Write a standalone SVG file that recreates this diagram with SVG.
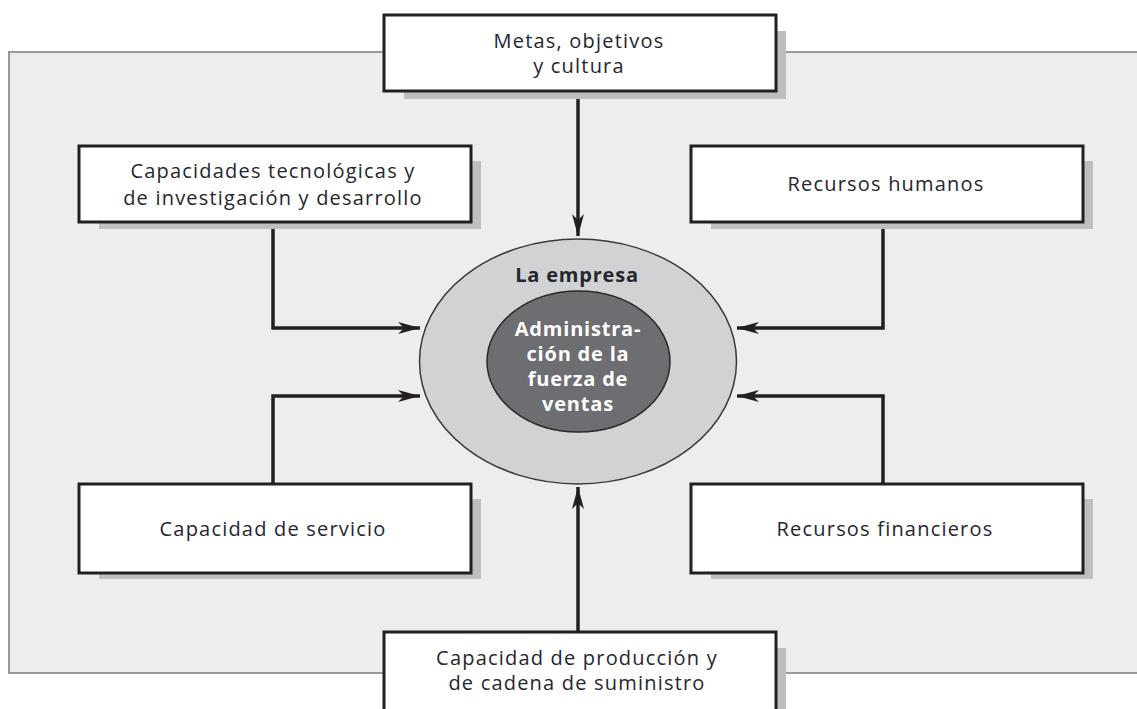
<svg xmlns="http://www.w3.org/2000/svg" width="1137" height="709" viewBox="0 0 1137 709">
<defs>
<style>
.shadow{fill:#bcbec0;stroke:none}
.box{fill:#ffffff;stroke:#231f20;stroke-width:3}
.lbl{font-family:"Open Sans","Liberation Sans",sans-serif;font-size:20px;letter-spacing:1.2px;fill:#26262f;text-anchor:middle}
.conn{fill:none;stroke:#231f20;stroke-width:3.5}
.inner{font-family:"Open Sans","Liberation Sans",sans-serif;font-size:20px;letter-spacing:0.8px;font-weight:bold;fill:#ffffff;text-anchor:middle}
</style>
<marker id="arr" markerUnits="userSpaceOnUse" markerWidth="24" markerHeight="14" refX="22" refY="6" orient="auto" viewBox="0 0 24 12">
<path d="M0,0 L22,6 L0,12 L6,6 z" fill="#231f20"/>
</marker>
</defs>
<rect width="1137" height="709" fill="#ffffff"/>
<rect id="panel" x="9" y="52" width="1140" height="621" fill="#ededed" stroke="#9a9a9a" stroke-width="2"/>

<g id="connectors">
<path class="conn" d="M578,91 V236" marker-end="url(#arr)"/>
<path class="conn" d="M273,222 V328 H420" marker-end="url(#arr)"/>
<path class="conn" d="M273,484 V396 H420" marker-end="url(#arr)"/>
<path class="conn" d="M883,222 V328 H737" marker-end="url(#arr)"/>
<path class="conn" d="M883,484 V396 H737" marker-end="url(#arr)"/>
<path class="conn" d="M578,632 V487" marker-end="url(#arr)"/>
</g>

<g id="empresa">
<ellipse cx="578" cy="361.5" rx="158.5" ry="122.5" fill="#d1d2d4" stroke="#3a3a3a" stroke-width="1.5"/>
<text x="577" y="282" font-family="'Open Sans','Liberation Sans',sans-serif" font-size="20" letter-spacing="0.8" font-weight="bold" fill="#26262f" text-anchor="middle">La empresa</text>
</g>
<g id="fuerza">
<ellipse cx="578.5" cy="361.5" rx="91.5" ry="70.5" fill="#6d6e71" stroke="#2a2a2a" stroke-width="1.5"/>
<text class="inner" x="578" y="336">Administra-</text>
<text class="inner" x="578" y="361">ción de la</text>
<text class="inner" x="578" y="386">fuerza de</text>
<text class="inner" x="578" y="411">ventas</text>
</g>

<g id="metas">
<rect class="shadow" x="404" y="31" width="382" height="68"/>
<rect class="box" x="384" y="15" width="392" height="76"/>
<text class="lbl" x="579" y="48">Metas, objetivos</text>
<text class="lbl" x="579" y="73">y cultura</text>
</g>

<g id="tecnologicas">
<rect class="shadow" x="99" y="161" width="382" height="68"/>
<rect class="box" x="79" y="146" width="392" height="76"/>
<text class="lbl" x="273" y="178">Capacidades tecnológicas y</text>
<text class="lbl" x="273" y="205">de investigación y desarrollo</text>
</g>

<g id="humanos">
<rect class="shadow" x="711" y="161" width="382" height="68"/>
<rect class="box" x="691" y="146" width="392" height="76"/>
<text class="lbl" x="886" y="191">Recursos humanos</text>
</g>

<g id="servicio">
<rect class="shadow" x="99" y="499" width="382" height="80"/>
<rect class="box" x="79" y="484" width="392" height="89"/>
<text class="lbl" x="273" y="536">Capacidad de servicio</text>
</g>

<g id="financieros">
<rect class="shadow" x="711" y="499" width="382" height="80"/>
<rect class="box" x="691" y="484" width="392" height="89"/>
<text class="lbl" x="885" y="536">Recursos financieros</text>
</g>

<g id="produccion">
<rect class="shadow" x="404" y="648" width="382" height="80"/>
<rect class="box" x="384" y="632" width="392" height="90"/>
<text class="lbl" x="577" y="665">Capacidad de producción y</text>
<text class="lbl" x="577" y="690">de cadena de suministro</text>
</g>
</svg>
